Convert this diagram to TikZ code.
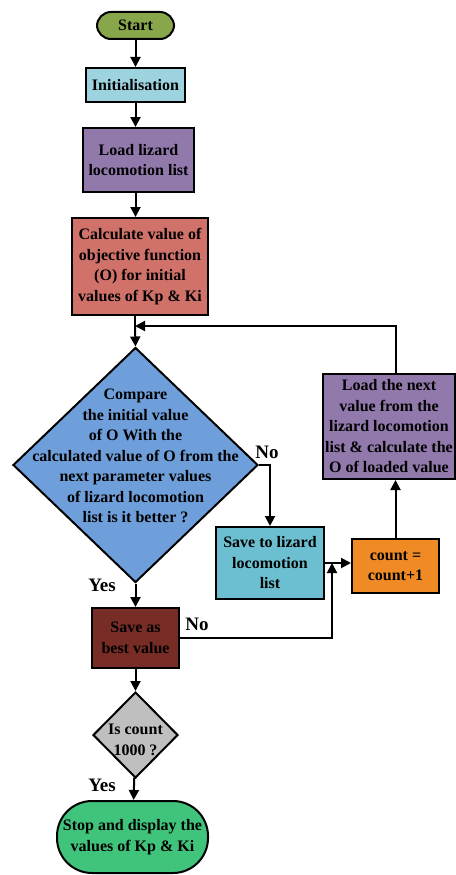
\documentclass[tikz,border=0pt]{standalone}
\usepackage{fontspec}
\setmainfont{Liberation Serif}
\usetikzlibrary{shapes.geometric,arrows.meta}
\definecolor{startgreen}{HTML}{88A64A}
\definecolor{initblue}{HTML}{9DD3DF}
\definecolor{lizpurple}{HTML}{9179AC}
\definecolor{calcred}{HTML}{D0716A}
\definecolor{cmpblue}{HTML}{6F9FDA}
\definecolor{savecyan}{HTML}{6CBFD1}
\definecolor{cntorange}{HTML}{F08A24}
\definecolor{bestred}{HTML}{772C26}
\definecolor{cntgrey}{HTML}{BFBFBF}
\definecolor{stopgreen}{HTML}{40C47B}
\begin{document}
\begin{tikzpicture}[x=1pt, y=-1pt,
  font=\fontsize{16}{20.5}\selectfont\bfseries,
  proc/.style={draw=black, line width=2pt, inner sep=0pt, align=center},
  term/.style={proc, rounded corners=14pt},
  dec/.style={draw=black, line width=2pt, shape=diamond, inner sep=0pt},
  conn/.style={line width=2pt},
  arr/.style={conn, -{Triangle[length=10pt,width=10pt]}},
  tag/.style={font=\fontsize{19}{22}\selectfont\bfseries}]
\useasboundingbox (0,0) rectangle (455,875);
\node[term, fill=startgreen, minimum width=77pt, minimum height=27pt] (start) at (135.5,25.5) {Start};
\node[proc, fill=initblue, minimum width=99pt, minimum height=34pt] (init) at (135.5,85) {Initialisation};
\node[proc, fill=lizpurple, minimum width=111pt, minimum height=64pt] (load) at (138.5,160) {Load lizard\\locomotion list};
\node[proc, fill=calcred, minimum width=136pt, minimum height=97pt] (calc) at (140,266.5) {Calculate value of\\objective function\\(O) for initial\\values of Kp \& Ki};
\node[dec, fill=cmpblue, minimum width=245pt, minimum height=235pt,
  label={[align=center, yshift=9pt]center:Compare\\the  initial value\\of O With  the\\calculated value of O from the\\next parameter values\\of lizard locomotion\\list is it better ?}] (cmp) at (135.5,465) {};
\node[proc, fill=savecyan, minimum width=108pt, minimum height=72pt] (saveto) at (270,563) {Save to lizard\\locomotion\\list};
\node[proc, fill=cntorange, minimum width=87pt, minimum height=54pt] (count) at (395.5,566) {count =\\count+1};
\node[proc, fill=lizpurple, minimum width=132pt, minimum height=105pt] (next) at (389,426.5) {Load the next\\value from the\\lizard locomotion\\list \& calculate the\\O of loaded value};
\node[proc, fill=bestred, minimum width=87pt, minimum height=60pt] (best) at (135.5,638) {Save as\\best value};
\node[dec, fill=cntgrey, minimum width=85pt, minimum height=86pt,
  label={[align=center, yshift=-5pt]center:Is count\\1000 ?}] (cnt) at (135.5,735) {};
\node[term, fill=stopgreen, rounded corners=35pt, minimum width=151pt, minimum height=72pt] (stop) at (132.5,837) {Stop and display the\\values of Kp \& Ki};
\coordinate (fb) at (135,326);
\coordinate (jn) at (332,563);
\path [arr] (start) edge (init);
\draw[arr] (init.south) -- (init.south |- load.north);
\draw[arr] (init.south |- load.south) -- (init.south |- calc.north);
\draw[conn] (fb |- calc.south) -- (fb);
\draw[arr] (fb) -- (cmp.north);
\draw[arr] (next.north -| count) |- (fb);
\draw[arr] (cmp.east) -| (saveto.north);
\draw[arr] (saveto.east) -- (saveto.east -| count.west);
\draw[arr] (count) -- (count |- next.south);
\draw[arr] (cmp.south) -- (best.north);
\draw[arr] (best.east) -| (jn);
\draw[arr] (best) -- (cnt);
\draw[arr] (cnt) -- (stop);
\node[tag] (no1) at (267,452) {No};
\node[tag] (yes1) at (102,585) {Yes};
\node[tag] (no2) at (197,624) {No};
\node[tag] (yes2) at (102,785) {Yes};
\end{tikzpicture}
\end{document}
